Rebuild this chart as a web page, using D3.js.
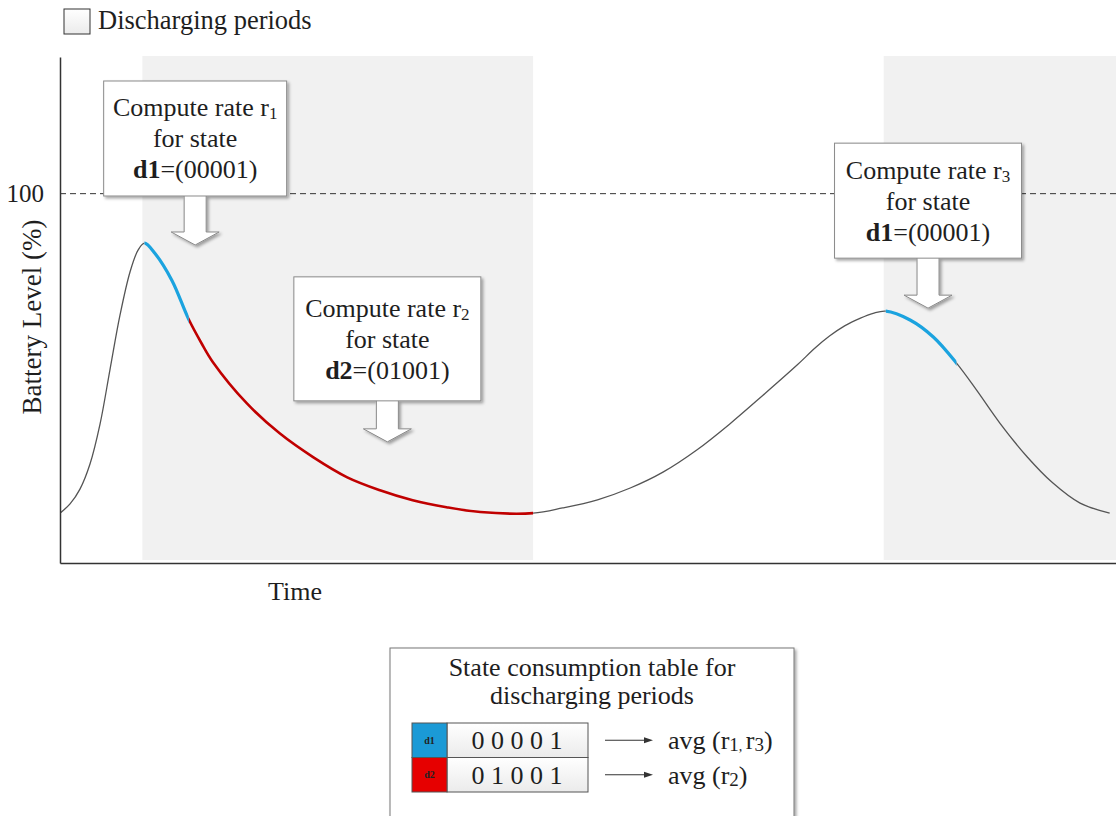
<!DOCTYPE html>
<html>
<head>
<meta charset="utf-8">
<script src="https://cdn.jsdelivr.net/npm/d3@7"></script>
<style>
  body { margin: 0; background: #fff; }
  svg text { font-family: "Liberation Serif", serif; fill: #1e1e1e; }
</style>
</head>
<body>
<div class="view"></div>
<script>
// battery level over time (time in arbitrary units 0-100)
const times = [0, 0.95, 1.89, 2.84, 3.79, 4.73, 5.68, 6.63, 7.39, 8.0, 9.0, 10.6, 12.2, 13.4, 14.5, 17.7, 20.8, 24.0, 27.2, 30.3,
  33.4, 36.6, 39.8, 44.8, 47.6, 50.9, 54.0, 57.1, 60.3, 63.4, 66.6, 69.8, 71.5, 72.9, 74.3, 75.8, 77.0, 78.2, 80.5, 82.7,
  84.9, 86.8, 89.0, 91.6, 94.0, 96.6, 99.4]
const levels = [13.5, 16.0, 20.0, 26.8, 37.6, 52.3, 67.1, 78.8, 84.7, 86.6, 83.8, 76.5, 65.9, 59.5, 54.3, 43.2, 35.1, 28.6, 23.2, 19.7,
  17.0, 15.1, 13.8, 13.5, 14.9, 17.1, 20.3, 24.6, 30.6, 37.6, 45.5, 53.6, 58.2, 61.5, 64.2, 66.3, 67.6, 68.2, 65.8, 61.2,
  54.1, 46.8, 37.9, 28.7, 21.7, 16.2, 13.5]

// which state the curve is in
const segFrom = [0, 8.0, 12.2, 44.8, 78.2, 84.9]
const segTo = [8.0, 12.2, 44.8, 78.2, 84.9, 100]
const segState = ['none', 'd1', 'd2', 'none', 'd1', 'none']

// discharging periods (shaded)
const periodFrom = [7.8, 78.0]
const periodTo = [44.8, 100]

const yTicks = [100]
const yTickLabels = ['100']

// callouts
const calloutRate = ['1', '2', '3']
const calloutState = ['d1', 'd2', 'd1']
const calloutCode = ['(00001)', '(01001)', '(00001)']
const calloutTipT = [12.8, 31.0, 82.2]
const calloutTipLevel = [86.1, 32.8, 69.0]

// state consumption table
const tableStates = ['d1', 'd2']
const tableCodes = ['0 0 0 0 1', '0 1 0 0 1']
const tableRates = [['1', '3'], ['2']]

const w = 1116
const h = 816
const pLeft = 60, pRight = 1116, pTop = 57, pBottom = 563

const colors = { none: '#555', d1: '#1ba3df', d2: '#c00000' }
const widths = { none: 1.3, d1: 3.2, d2: 2.6 }
const cellColors = { d1: '#1b9ad6', d2: '#e60000' }

const svg = d3.select('.view')
    .append('svg')
    .attr('width', w)
    .attr('height', h)

const defs = svg.append('defs')
const shadow = defs.append('filter').attr('id', 'shadow')
    .attr('x', '-10%').attr('y', '-10%').attr('width', '130%').attr('height', '130%')
shadow.append('feDropShadow')
    .attr('dx', 2).attr('dy', 2).attr('stdDeviation', 1.5)
    .attr('flood-color', '#000').attr('flood-opacity', 0.35)

const grad = defs.append('linearGradient').attr('id', 'cellGrad')
    .attr('x1', 0).attr('y1', 0).attr('x2', 0).attr('y2', 1)
grad.append('stop').attr('offset', '0%').attr('stop-color', '#ffffff')
grad.append('stop').attr('offset', '100%').attr('stop-color', '#ebebeb')

// scales
const xScale = d3.scaleLinear().domain([0, 100]).range([pLeft, pRight])
const yScale = d3.scaleLinear().domain([0, 137]).range([pBottom, pTop])

// shaded periods
svg.selectAll('.period')
    .data(periodFrom)
    .enter()
    .append('rect')
    .attr('class', 'period')
    .attr('x', (d) => xScale(d))
    .attr('y', yScale(137) - 1)
    .attr('width', (d, i) => xScale(periodTo[i]) - xScale(d))
    .attr('height', yScale(0) - yScale(137) - 2)
    .attr('fill', '#f1f1f1')

// 100% dashed line
svg.selectAll('.ref')
    .data(yTicks)
    .enter()
    .append('line')
    .attr('x1', pLeft).attr('x2', pRight)
    .attr('y1', (d) => yScale(d)).attr('y2', (d) => yScale(d))
    .attr('stroke', '#333')
    .attr('stroke-width', 1)
    .attr('stroke-dasharray', '6,4')

// curve, one clip per state segment
const points = times.map((t, i) => [t, levels[i]])
const line = d3.line()
    .x((d) => xScale(d[0]))
    .y((d) => yScale(d[1]))
    .curve(d3.curveCatmullRom.alpha(0.5))

segFrom.forEach((from, i) => {
    defs.append('clipPath').attr('id', 'seg' + i)
        .append('rect')
        .attr('x', xScale(from))
        .attr('y', 0)
        .attr('width', xScale(segTo[i]) - xScale(from))
        .attr('height', h)
    svg.append('path')
        .datum(points)
        .attr('d', line)
        .attr('fill', 'none')
        .attr('stroke', colors[segState[i]])
        .attr('stroke-width', widths[segState[i]])
        .attr('clip-path', 'url(#seg' + i + ')')
})

// axes
const yAxis = d3.axisLeft(yScale).tickValues(yTicks).tickSize(0).tickSizeOuter(0).tickPadding(16)
    .tickFormat((d, i) => yTickLabels[i])
const xAxis = d3.axisBottom(xScale).tickValues([]).tickSizeOuter(0)

const gy = svg.append('g')
    .attr('transform', 'translate(' + pLeft + ',0)')
    .call(yAxis)
gy.selectAll('text').attr('font-size', 25).attr('font-family', '"Liberation Serif", serif').attr('fill', '#1e1e1e')

const gx = svg.append('g')
    .attr('transform', 'translate(0,' + pBottom + ')')
    .call(xAxis)

svg.selectAll('.domain').attr('stroke', '#333').attr('stroke-width', 1.5)

svg.append('text')
    .attr('transform', 'translate(41,' + 317 + ') rotate(-90)')
    .attr('text-anchor', 'middle')
    .attr('font-size', 27)
    .text('Battery Level (%)')

svg.append('text')
    .attr('x', 295).attr('y', 600)
    .attr('text-anchor', 'middle')
    .attr('font-size', 26)
    .text('Time')

// legend
svg.append('rect')
    .attr('x', 64).attr('y', 9).attr('width', 26).attr('height', 25)
    .attr('fill', 'url(#cellGrad)').attr('stroke', '#333').attr('stroke-width', 1)
svg.append('text')
    .attr('x', 98).attr('y', 29)
    .attr('font-size', 26.5)
    .text('Discharging periods')

// callouts
const boxW = [183, 187, 187]
const boxH = [115, 124, 115]
const arrowLen = [49, 41, 50]
calloutRate.forEach((r, i) => {
    const tx = xScale(calloutTipT[i])
    const ty = yScale(calloutTipLevel[i])
    const bBottom = ty - arrowLen[i]
    const bTop = bBottom - boxH[i]
    const sw = 11, hw = 24, hh = 13
    const g = svg.append('g').attr('filter', 'url(#shadow)')
    g.append('path')
        .attr('d', 'M' + (tx - sw) + ',' + (bBottom - 2) + 'V' + (ty - hh) + 'H' + (tx - hw)
            + 'L' + tx + ',' + ty + 'L' + (tx + hw) + ',' + (ty - hh) + 'H' + (tx + sw) + 'V' + (bBottom - 2) + 'Z')
        .attr('fill', '#fff').attr('stroke', '#8a8a8a').attr('stroke-width', 1)
    g.append('rect')
        .attr('x', tx - boxW[i] / 2).attr('y', bTop)
        .attr('width', boxW[i]).attr('height', boxH[i])
        .attr('fill', '#fff').attr('stroke', '#8a8a8a').attr('stroke-width', 1)

    const cy = bTop + boxH[i] / 2 + 9
    const t1 = svg.append('text').attr('x', tx).attr('y', cy - 31)
        .attr('text-anchor', 'middle').attr('font-size', 26)
    t1.append('tspan').text('Compute rate r')
    t1.append('tspan').attr('font-size', 17).attr('dy', 3).text(r)
    svg.append('text').attr('x', tx).attr('y', cy)
        .attr('text-anchor', 'middle').attr('font-size', 26)
        .text('for state')
    const t3 = svg.append('text').attr('x', tx).attr('y', cy + 31)
        .attr('text-anchor', 'middle').attr('font-size', 26)
    t3.append('tspan').attr('font-weight', 'bold').text(calloutState[i])
    t3.append('tspan').text('=' + calloutCode[i])
})

// state consumption table
const tb = svg.append('g')
tb.append('rect')
    .attr('x', 390).attr('y', 648).attr('width', 404).attr('height', 200)
    .attr('fill', '#fff').attr('stroke', '#777').attr('stroke-width', 1)
    .attr('filter', 'url(#shadow)')
tb.append('text').attr('x', 592).attr('y', 676).attr('text-anchor', 'middle').attr('font-size', 26)
    .text('State consumption table for')
tb.append('text').attr('x', 592).attr('y', 704).attr('text-anchor', 'middle').attr('font-size', 26)
    .text('discharging periods')

const rowY = d3.scaleBand().domain(tableStates).range([723, 792])
const rows = tb.selectAll('.row')
    .data(tableStates)
    .enter()
    .append('g')
    .attr('class', 'row')
    .attr('transform', (d) => 'translate(0,' + rowY(d) + ')')

rows.append('rect')
    .attr('x', 447).attr('width', 141).attr('height', rowY.bandwidth())
    .attr('fill', 'url(#cellGrad)').attr('stroke', '#555').attr('stroke-width', 1)
rows.append('rect')
    .attr('x', 412).attr('width', 35).attr('height', rowY.bandwidth())
    .attr('fill', (d) => cellColors[d]).attr('stroke', '#555').attr('stroke-width', 1)
rows.append('text')
    .attr('x', 429.5).attr('y', rowY.bandwidth() / 2 + 3.5)
    .attr('text-anchor', 'middle').attr('font-size', 10).attr('font-weight', 'bold')
    .style('fill', '#222')
    .text((d) => d)
rows.append('text')
    .attr('x', 517).attr('y', rowY.bandwidth() / 2 + 9)
    .attr('text-anchor', 'middle').attr('font-size', 26)
    .text((d, i) => tableCodes[i])
rows.append('line')
    .attr('x1', 605).attr('x2', 646)
    .attr('y1', rowY.bandwidth() / 2).attr('y2', rowY.bandwidth() / 2)
    .attr('stroke', '#333').attr('stroke-width', 1.2)
rows.append('path')
    .attr('d', 'M644,' + (rowY.bandwidth() / 2 - 3) + 'L653,' + (rowY.bandwidth() / 2) + 'L644,' + (rowY.bandwidth() / 2 + 3) + 'Z')
    .attr('fill', '#333')
rows.each(function(d, i) {
    const t = d3.select(this).append('text')
        .attr('x', 668).attr('y', rowY.bandwidth() / 2 + 9)
        .attr('font-size', 26)
    t.append('tspan').text('avg (r')
    tableRates[i].forEach((r, j) => {
        if (j > 0) t.append('tspan').attr('font-size', 14).attr('dy', 0).text(', ')
        if (j > 0) t.append('tspan').attr('font-size', 26).attr('dy', -2).text('r')
        t.append('tspan').attr('font-size', 19).attr('dy', 2).text(r)
    })
    t.append('tspan').attr('dy', -2).text(')')
})
</script>
</body>
</html>
